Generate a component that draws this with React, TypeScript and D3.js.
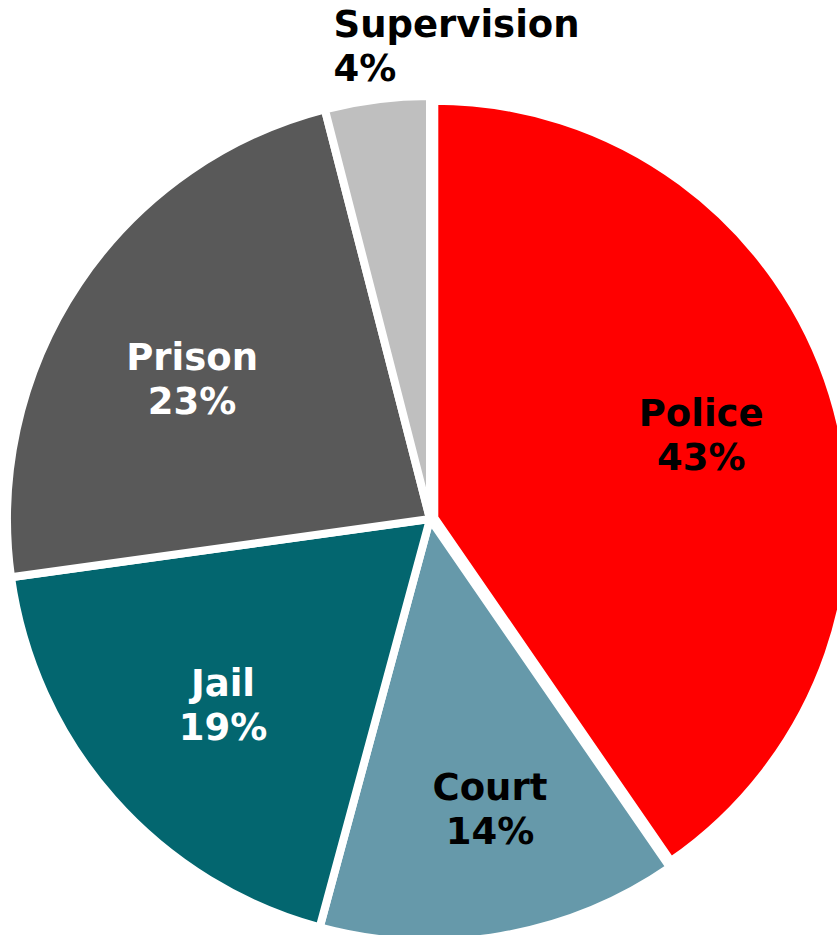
import React from "react";
import * as d3 from "d3";

// ---- data ----
const categories = ["Police", "Court", "Jail", "Prison", "Supervision"];
const shares = [40.4, 13.8, 18.6, 23.2, 4.0]; // slice sizes
const labelPercents = [43, 14, 19, 23, 4]; // percentages printed on the labels
const sliceColors = ["#FF0000", "#6699AA", "#03666F", "#595959", "#BFBFBF"];
const labelColors = ["#000000", "#000000", "#FFFFFF", "#FFFFFF", "#000000"];
const explodedSlice = ["Police"];
const outsideLabels = ["Supervision"];

// ---- layout ----
const W = 837;
const H = 935;
const CX = 430;
const CY = 519;
const STROKE = 8;
const R = 423;
const R_EXPLODED = 417;
const EXPLODE = 4.5;
const LABEL_R = 284;
const FONT = "'DejaVu Sans', Verdana, sans-serif";
const FS = 37;
const LH = 44;
const labelNudge: Record<string, [number, number]> = {
  Police: [0, 0],
  Court: [12, 10],
  Jail: [6, -2],
  Prison: [-2, 18],
};

export default function App() {
  const data = categories.map((c, i) => ({
    name: c,
    value: shares[i],
    pct: labelPercents[i],
    color: sliceColors[i],
    text: labelColors[i],
  }));
  const pie = d3.pie<any>().sort(null).value((d) => d.value);
  const arcs = pie(data);

  return (
    <svg
      width={W}
      height={H}
      style={{ position: "absolute", left: 0, top: 0, display: "block", background: "#fff" }}
    >
      <g transform={`translate(${CX},${CY})`}>
        {arcs.map((a, i) => {
          const isEx = explodedSlice.includes(a.data.name);
          const mid = (a.startAngle + a.endAngle) / 2;
          const ox = isEx ? EXPLODE * Math.sin(mid) : 0;
          const oy = isEx ? -EXPLODE * Math.cos(mid) : 0;
          const arcGen = d3
            .arc<any>()
            .innerRadius(0)
            .outerRadius(isEx ? R_EXPLODED : R);
          return (
            <path
              key={i}
              d={arcGen(a) as string}
              transform={`translate(${ox},${oy})`}
              fill={a.data.color}
              stroke="#FFFFFF"
              strokeWidth={STROKE}
              strokeLinejoin="miter"
            />
          );
        })}
        {arcs.map((a, i) => {
          const mid = (a.startAngle + a.endAngle) / 2;
          const isOut = outsideLabels.includes(a.data.name);
          if (isOut) {
            const px = (R - STROKE / 2) * Math.sin(mid);
            const py = -(R - STROKE / 2) * Math.cos(mid);
            const x = px - 44;
            const b2 = py - 22;
            return (
              <text
                key={"l" + i}
                fontFamily={FONT}
                fontWeight="bold"
                fontSize={FS}
                fill={a.data.text}
                textAnchor="start"
              >
                <tspan x={x} y={b2 - LH}>{a.data.name}</tspan>
                <tspan x={x} y={b2}>{a.data.pct + "%"}</tspan>
              </text>
            );
          }
          const [cx0, cy0] = d3.arc<any>().innerRadius(LABEL_R).outerRadius(LABEL_R).centroid(a);
          const [nx, ny] = labelNudge[a.data.name] || [0, 0];
          const lx = cx0 + nx;
          const b1 = cy0 + ny - 9;
          return (
            <text
              key={"l" + i}
              fontFamily={FONT}
              fontWeight="bold"
              fontSize={FS}
              fill={a.data.text}
              textAnchor="middle"
            >
              <tspan x={lx} y={b1}>{a.data.name}</tspan>
              <tspan x={lx} y={b1 + LH}>{a.data.pct + "%"}</tspan>
            </text>
          );
        })}
      </g>
    </svg>
  );
}
